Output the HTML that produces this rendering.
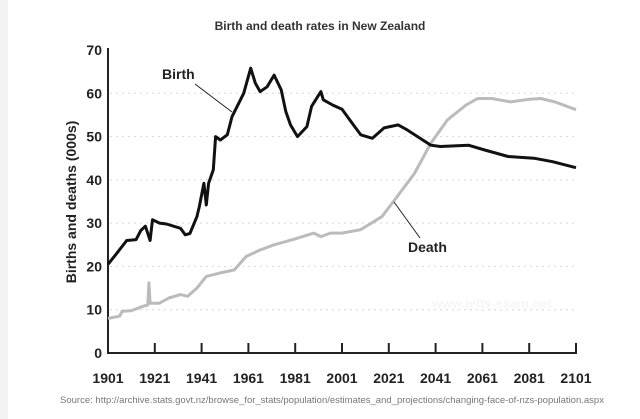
<!DOCTYPE html>
<html><head><meta charset="utf-8"><style>
body{margin:0;background:#fff;}
svg{display:block;font-family:"Liberation Sans",Arial,sans-serif;}
</style></head><body>
<svg width="640" height="419" viewBox="0 0 640 419">
<rect x="0" y="0" width="8" height="419" fill="#f3f3f3"/>
<text x="320" y="30" text-anchor="middle" font-size="12" font-weight="bold" fill="#333">Birth and death rates in New Zealand</text>
<g id="grid"></g>
<g id="axes"></g>
<text transform="translate(76,202) rotate(-90)" text-anchor="middle" font-size="14" font-weight="bold" fill="#222">Births and deaths (000s)</text>
<text x="492" y="308" text-anchor="middle" font-size="13" font-weight="bold" fill="#f6f6f6">www.ielts-exam.net</text>
<g id="series"></g>
<line x1="195" y1="84" x2="232" y2="112" stroke="#222" stroke-width="1"/>
<text x="162" y="79" font-size="14" font-weight="bold" fill="#222">Birth</text>
<line x1="394" y1="202" x2="420" y2="238" stroke="#222" stroke-width="1"/>
<text x="408" y="252" font-size="14" font-weight="bold" fill="#222">Death</text>
<text x="332" y="403" text-anchor="middle" font-size="9.5" fill="#777">Source: http://archive.stats.govt.nz/browse_for_stats/population/estimates_and_projections/changing-face-of-nzs-population.aspx</text>
</svg>
<script>
const xTicks=[1901,1921,1941,1961,1981,2001,2021,2041,2061,2081,2101];
const yTicks=[0,10,20,30,40,50,60,70];
const birthYears=[1901,1904,1909,1913,1915,1917,1919,1920,1923,1926,1932,1934,1936,1939,1940,1942,1943,1944,1946,1947,1949,1952,1954,1959,1962,1964,1966,1969,1972,1975,1977,1979,1982,1986,1988,1992,1993,1997,2001,2009,2014,2019,2025,2029,2039,2043,2055,2062,2072,2083,2091,2101];
const birthVals=[20.5,22.5,26,26.2,28.3,29.3,26,30.8,30,29.8,28.8,27.3,27.6,31.5,33.8,39.2,34.2,39.2,42.3,50,49.2,50.4,54.6,60,65.8,62.3,60.4,61.5,64.2,60.8,55.8,52.7,50,52.3,57,60.4,58.5,57.3,56.3,50.4,49.6,52,52.7,51.5,48,47.7,48,46.9,45.4,45,44.2,42.8];
const deathYears=[1901,1906,1907,1911,1916,1918,1918.5,1919,1923,1927,1932,1935,1939,1943,1949,1955,1960,1966,1972,1980,1989,1992,1996,2001,2009,2018,2023,2032,2039,2046,2054,2059,2065,2073,2081,2086,2092,2101];
const deathVals=[8,8.5,9.6,9.8,10.8,11.1,16.2,11.5,11.5,12.7,13.5,13.1,15,17.7,18.5,19.2,22.3,23.8,25,26.2,27.7,26.9,27.7,27.7,28.5,31.5,35,41.5,48.5,53.8,57.3,58.8,58.8,58,58.6,58.8,58,56.2];
const NS="http://www.w3.org/2000/svg";
const X=y=>108+(y-1901)*(576-108)/200;
const Y=v=>353-v*(353-50)/70;
function mk(tag,attrs,parent){const e=document.createElementNS(NS,tag);for(const k in attrs)e.setAttribute(k,attrs[k]);document.getElementById(parent).appendChild(e);return e;}
yTicks.forEach(v=>{
  if(v>0&&v<70){const g=mk('line',{x1:110,x2:576,y1:Y(v),y2:Y(v),stroke:'#ddd','stroke-width':1.2,'stroke-dasharray':'2 4'},'grid');
  
  }
  const t=mk('text',{x:102,y:Y(v)+5,'text-anchor':'end','font-size':14,'font-weight':'bold',fill:'#222'},'axes');
  t.textContent=v;
  
  
});
const ya=mk('line',{x1:108,x2:108,y1:48,y2:354,stroke:'#222','stroke-width':2},'axes');


const xa=mk('line',{x1:107,x2:577,y1:353,y2:353,stroke:'#222','stroke-width':2},'axes');


xTicks.forEach((yr,i)=>{
  if(i>0){const tk=mk('line',{x1:X(yr),x2:X(yr),y1:343,y2:353,stroke:'#222','stroke-width':2},'axes');
  
  }
  const t=mk('text',{x:X(yr),y:383,'text-anchor':'middle','font-size':14,'font-weight':'bold',fill:'#222'},'axes');
  t.textContent=yr;
  
  
});
function pts(ys,vs){return ys.map((y,i)=>X(y).toFixed(1)+','+Y(vs[i]).toFixed(1)).join(' ');}
const d=mk('polyline',{points:pts(deathYears,deathVals),fill:'none',stroke:'#bbb','stroke-width':3,'stroke-linejoin':'round'},'series');


const b=mk('polyline',{points:pts(birthYears,birthVals),fill:'none',stroke:'#111','stroke-width':3,'stroke-linejoin':'round'},'series');


</script>
</body></html>
